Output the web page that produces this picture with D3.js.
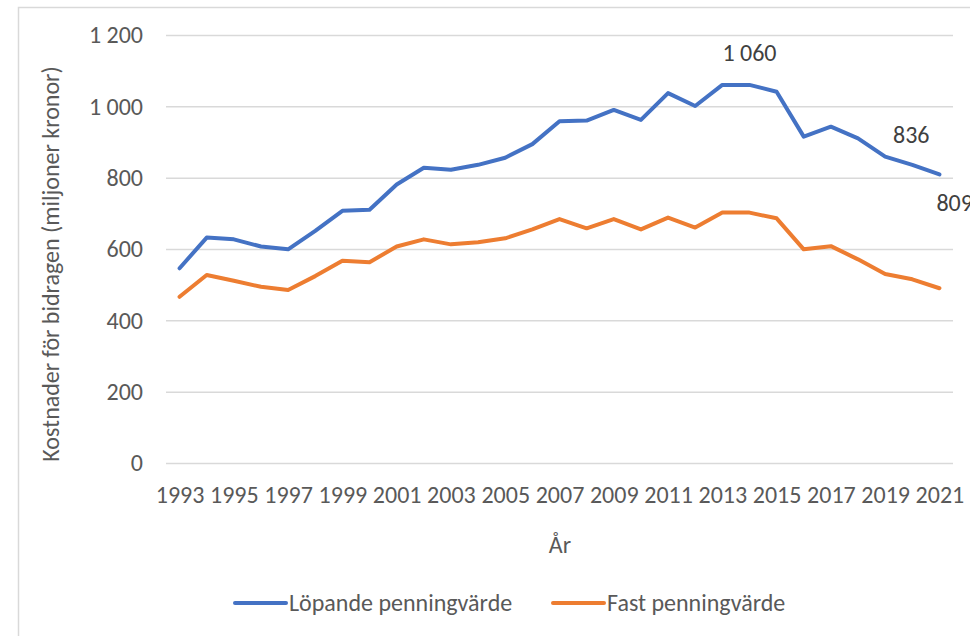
<!DOCTYPE html>
<html>
<head>
<meta charset="utf-8">
<script src="https://cdn.jsdelivr.net/npm/d3@7"></script>
<style>
  html, body { margin: 0; padding: 0; background: #fff; }
  svg text { font-family: Carlito, Calibri, "Liberation Sans", Arial, sans-serif; }
</style>
</head>
<body>
<svg id="chart" width="970" height="636"></svg>
<script>
const years = [1993,1994,1995,1996,1997,1998,1999,2000,2001,2002,2003,2004,2005,2006,2007,
               2008,2009,2010,2011,2012,2013,2014,2015,2016,2017,2018,2019,2020,2021];
const lopande = [546,632,627,607,599,651,707,710,781,828,822,836,856,894,958,
                 960,990,962,1037,1001,1060,1060,1041,915,943,910,859,836,809];
const fast = [466,527,511,494,485,524,567,563,607,627,613,619,630,655,684,
              658,684,655,688,660,702,702,686,599,608,571,530,515,490];
const yTicks = [0,200,400,600,800,1000,1200];
const xTickYears = years.filter((y,i) => i % 2 === 0);
const seriesNames = ["Löpande penningvärde", "Fast penningvärde"];
const seriesColors = ["#4472C4", "#ED7D31"];
const labelled = [{year:2014, value:1060, dx:0, dy:-32, anchor:"middle"},
                  {year:2020, value:836, dx:-1, dy:-30, anchor:"middle"},
                  {year:2021, value:809, dx:-3, dy:28, anchor:"start"}];

const svg = d3.select("#chart");
const W = 970, H = 636;
const plot = {left:166, right:953, top:35, bottom:463};
const textColor = "#595959";
const fs = 24;

// frame
svg.append("rect").attr("x",18.5).attr("y",7.5).attr("width",W).attr("height",H)
  .attr("fill","#fff").attr("stroke","#d9d9d9").attr("stroke-width",1.5);

const x = d3.scalePoint().domain(years).range([plot.left, plot.right]).padding(0.5);
const y = d3.scaleLinear().domain([0,1200]).range([plot.bottom, plot.top]);
const loc = d3.formatLocale({decimal:",", thousands:"\u00a0", grouping:[3], currency:["","kr"]});
const fmt = loc.format(",d");

// gridlines + y labels
const yAxis = d3.axisLeft(y).tickValues(yTicks).tickSize(-(plot.right-plot.left)).tickPadding(23).tickFormat(fmt);
const gy = svg.append("g").attr("transform",`translate(${plot.left},0)`).call(yAxis);
gy.select(".domain").remove();
gy.selectAll(".tick line").attr("stroke","#d9d9d9").attr("stroke-width",1.5);
gy.selectAll(".tick text").attr("fill",textColor).attr("font-size",fs).attr("font-family",null);

// x labels
const xAxis = d3.axisBottom(x).tickValues(xTickYears).tickSize(0).tickPadding(23);
const gx = svg.append("g").attr("transform",`translate(0,${plot.bottom})`).call(xAxis);
gx.select(".domain").remove();
gx.selectAll(".tick text").attr("fill",textColor).attr("font-size",fs).attr("font-family",null);

// lines
const line = d3.line().x((d,i)=>x(years[i])).y(d=>y(d));
[lopande, fast].forEach((s,k)=>{
  svg.append("path").datum(s).attr("d",line).attr("fill","none")
    .attr("stroke",seriesColors[k]).attr("stroke-width",4)
    .attr("stroke-linejoin","round").attr("stroke-linecap","round");
});

// data labels
labelled.forEach(l=>{
  svg.append("text").attr("x",x(l.year)+l.dx).attr("y",y(l.value)+l.dy)
    .attr("dy","0.35em").attr("text-anchor",l.anchor)
    .attr("fill","#404040").attr("font-size",fs).text(fmt(l.value));
});

// axis titles
svg.append("text").attr("transform","translate(59,264) rotate(-90)")
  .attr("text-anchor","middle").attr("fill",textColor).attr("font-size",fs)
  .text("Kostnader för bidragen (miljoner kronor)");
svg.append("text").attr("x",560).attr("y",553).attr("text-anchor","middle")
  .attr("fill",textColor).attr("font-size",fs).text("År");

// legend
const legendItems = [{x:233}, {x:551}];
legendItems.forEach((it,k)=>{
  const g = svg.append("g").attr("transform",`translate(${it.x},603)`);
  g.append("line").attr("x1",2).attr("x2",53).attr("y1",0).attr("y2",0)
    .attr("stroke",seriesColors[k]).attr("stroke-width",4).attr("stroke-linecap","round");
  g.append("text").attr("x",56).attr("y",0).attr("dy","0.35em")
    .attr("fill",textColor).attr("font-size",fs).text(seriesNames[k]);
});
</script>
</body>
</html>
